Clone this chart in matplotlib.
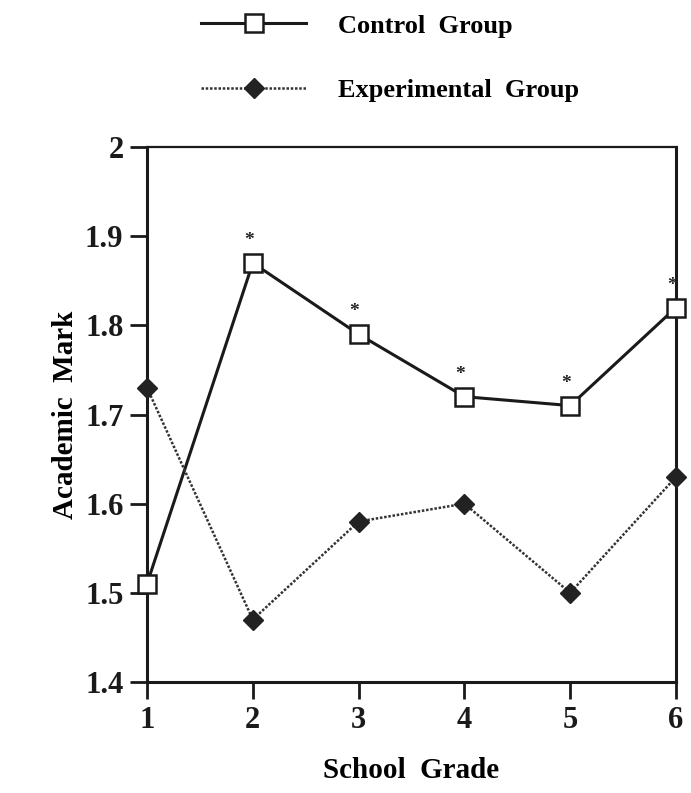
import matplotlib.pyplot as plt
from matplotlib.lines import Line2D

plt.rcParams['font.family'] = ['Liberation Serif', 'DejaVu Serif']
plt.rcParams['font.weight'] = 'bold'
plt.rcParams['axes.labelweight'] = 'bold'

grades = [1, 2, 3, 4, 5, 6]
control = [1.51, 1.87, 1.79, 1.72, 1.71, 1.82]
experimental = [1.73, 1.47, 1.58, 1.60, 1.50, 1.63]
significant = [False, True, True, True, True, True]

fig = plt.figure(figsize=(6.91, 7.93), dpi=100)
ax = fig.add_axes([147 / 691, 1 - 682 / 793, 529 / 691, 535 / 793])

ax.plot(grades, control, color='#1a1a1a', lw=2.2, marker='s', ms=13,
        mfc='white', mec='#1a1a1a', mew=1.8, clip_on=False, zorder=3)
ax.plot(grades, experimental, color='#333333', lw=1.8, ls=(0, (1, 0.7)),
        marker='D', ms=10, mfc='#222222', mec='#222222', clip_on=False, zorder=3)

# asterisks over the significant differences
for g, c, s in zip(grades, control, significant):
    if s:
        ax.annotate('*', (g, c), xytext=(-3, 10), textcoords='offset points',
                    ha='center', va='bottom', fontsize=14, color='#222222')

ax.set_xlim(1, 6)
ax.set_ylim(1.4, 2.0)
ax.set_xticks(grades)
ax.set_yticks([1.4, 1.5, 1.6, 1.7, 1.8, 1.9, 2.0])
ax.set_yticklabels(['1.4', '1.5', '1.6', '1.7', '1.8', '1.9', '2'])
ax.tick_params(axis='both', direction='out', length=12, width=2,
               labelsize=22, colors='#1a1a1a', pad=5)
for side in ['left', 'bottom', 'right']:
    ax.spines[side].set_linewidth(2.2)
ax.spines['top'].set_linewidth(1.6)
for sp in ax.spines.values():
    sp.set_color('#1a1a1a')

ax.set_xlabel('School  Grade', fontsize=21, labelpad=16)
ax.set_ylabel('Academic  Mark', fontsize=21)
ax.yaxis.set_label_coords(-68 / 529, 0.5)

handles = [
    Line2D([], [], color='#1a1a1a', lw=2.2, marker='s', ms=13, mfc='white',
           mec='#1a1a1a', mew=1.8),
    Line2D([], [], color='#333333', lw=1.8, ls=(0, (1, 0.7)), marker='D', ms=10,
           mfc='#222222', mec='#222222'),
]
fig.legend(handles, ['Control  Group', 'Experimental  Group'],
           loc='upper left', bbox_to_anchor=(177 / 691, 1.012), frameon=False,
           handlelength=4.0, handletextpad=1.2, labelspacing=1.55,
           prop={'size': 19, 'weight': 'bold'})

fig.savefig('out.png', dpi=100)
